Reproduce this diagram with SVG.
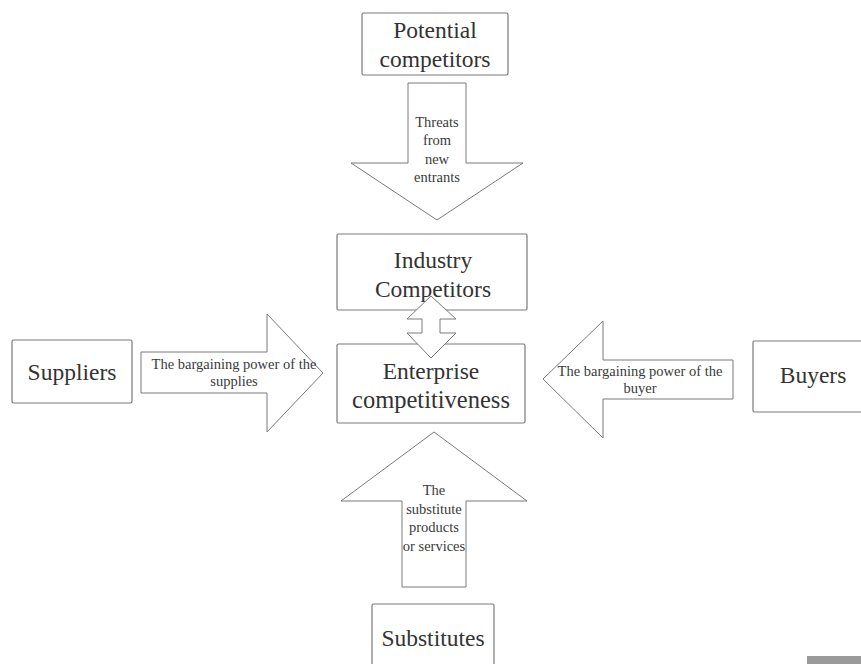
<svg xmlns="http://www.w3.org/2000/svg" width="861" height="664" viewBox="0 0 861 664" style="font-family: 'Liberation Serif', 'Times New Roman', serif">
  <style>
    .box { fill: #ffffff; stroke: #7a7a7a; stroke-width: 1.2; }
    .arrow { fill: #ffffff; stroke: #7a7a7a; stroke-width: 1; stroke-linejoin: miter; }
  </style>
  <rect width="861" height="664" fill="#ffffff"/>

  <!-- boxes for the five forces and the firm -->
  <g id="potential-competitors">
    <rect class="box" x="362" y="13" width="146" height="62" rx="1.5"/>
    <text x="435" y="38" font-family="Liberation Serif" font-size="23.5" fill="#333333" text-anchor="middle">Potential</text>
    <text x="435" y="67" font-family="Liberation Serif" font-size="23.5" fill="#333333" text-anchor="middle">competitors</text>
  </g>
  <g id="industry-competitors">
    <rect class="box" x="337" y="234" width="190" height="76" rx="1.5"/>
    <text x="433" y="268" font-family="Liberation Serif" font-size="23.5" fill="#333333" text-anchor="middle">Industry</text>
    <text x="433" y="297" font-family="Liberation Serif" font-size="23.5" fill="#333333" text-anchor="middle">Competitors</text>
  </g>
  <g id="enterprise-competitiveness">
    <rect class="box" x="337" y="344" width="188" height="79" rx="1.5"/>
    <text x="431" y="379" font-family="Liberation Serif" font-size="23.5" fill="#333333" text-anchor="middle">Enterprise</text>
    <text x="431" y="408" font-family="Liberation Serif" font-size="24.5" fill="#333333" text-anchor="middle">competitiveness</text>
  </g>
  <g id="suppliers">
    <rect class="box" x="12" y="340" width="120" height="63" rx="1.5"/>
    <text x="72" y="380" font-family="Liberation Serif" font-size="23.5" fill="#333333" text-anchor="middle">Suppliers</text>
  </g>
  <g id="buyers">
    <rect class="box" x="753" y="341" width="115" height="71" rx="1.5"/>
    <text x="813" y="383" font-family="Liberation Serif" font-size="23.5" fill="#333333" text-anchor="middle">Buyers</text>
  </g>
  <g id="substitutes">
    <rect class="box" x="372" y="604" width="122" height="70" rx="1.5"/>
    <text x="433" y="646" font-family="Liberation Serif" font-size="23.5" fill="#333333" text-anchor="middle">Substitutes</text>
  </g>

  <!-- block arrows between the forces -->
  <g id="connectors">
    <g id="new-entrants">
      <polygon class="arrow" points="408,83 466,83 466,163 523,163 437,220 351,163 408,163"/>
      <text x="437" y="127" font-family="Liberation Serif" font-size="14.5" fill="#3a3a3a" text-anchor="middle">Threats</text>
      <text x="437" y="145" font-family="Liberation Serif" font-size="14.5" fill="#3a3a3a" text-anchor="middle">from</text>
      <text x="437" y="164" font-family="Liberation Serif" font-size="14.5" fill="#3a3a3a" text-anchor="middle">new</text>
      <text x="437" y="182" font-family="Liberation Serif" font-size="14.5" fill="#3a3a3a" text-anchor="middle">entrants</text>
    </g>
    <g id="rivalry">
      <polygon class="arrow" points="431,296 456,319 440,319 440,333 456,333 431,358 407,333 422,333 422,319 407,319"/>
    </g>
    <g id="supplier-power">
      <polygon class="arrow" points="141,352 267,352 267,314 323,373 267,432 267,393 141,393"/>
      <text x="234" y="369" font-family="Liberation Serif" font-size="14.5" fill="#3a3a3a" text-anchor="middle">The bargaining power of the</text>
      <text x="234" y="386" font-family="Liberation Serif" font-size="14.5" fill="#3a3a3a" text-anchor="middle">supplies</text>
    </g>
    <g id="buyer-power">
      <polygon class="arrow" points="733,360 603,360 603,321 543,379 603,438 603,399 733,399"/>
      <text x="640" y="376" font-family="Liberation Serif" font-size="14.5" fill="#3a3a3a" text-anchor="middle">The bargaining power of the</text>
      <text x="640" y="393" font-family="Liberation Serif" font-size="14.5" fill="#3a3a3a" text-anchor="middle">buyer</text>
    </g>
    <g id="substitution">
      <polygon class="arrow" points="402,587 466,587 466,501 527,501 434,432 341,501 402,501"/>
      <text x="434" y="495" font-family="Liberation Serif" font-size="14.5" fill="#3a3a3a" text-anchor="middle">The</text>
      <text x="434" y="514" font-family="Liberation Serif" font-size="14.5" fill="#3a3a3a" text-anchor="middle">substitute</text>
      <text x="434" y="532" font-family="Liberation Serif" font-size="14.5" fill="#3a3a3a" text-anchor="middle">products</text>
      <text x="434" y="551" font-family="Liberation Serif" font-size="14.5" fill="#3a3a3a" text-anchor="middle">or services</text>
    </g>
  </g>

  <rect x="807" y="656" width="54" height="8" fill="#9a9a9a"/>
</svg>
